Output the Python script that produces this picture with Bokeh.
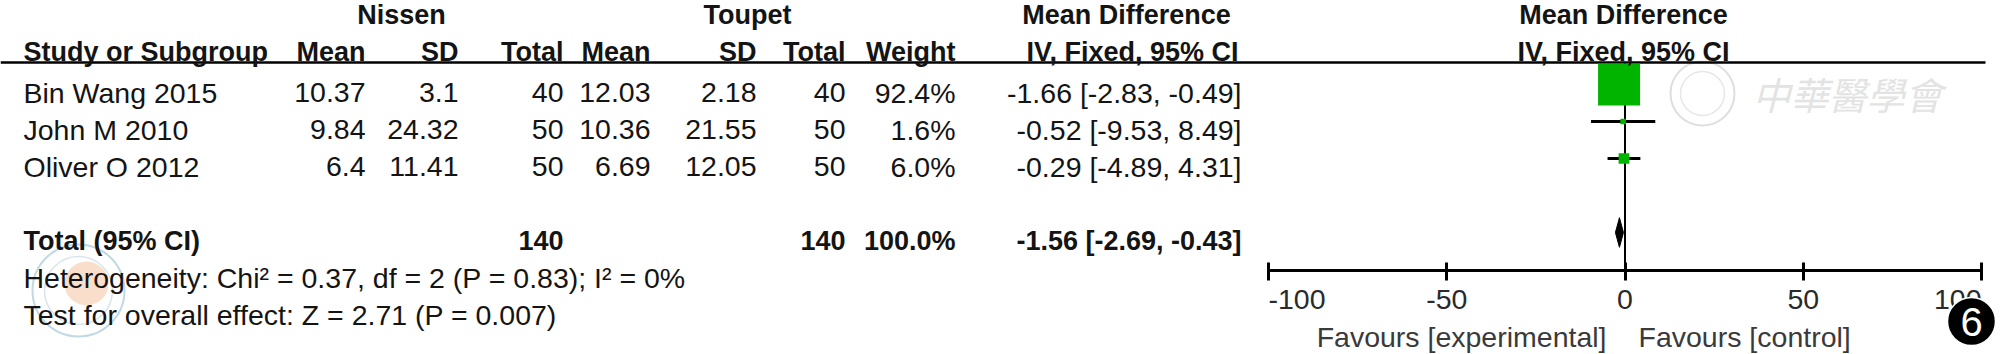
import math
from bokeh.plotting import figure
from bokeh.models import Range1d, LinearAxis, FixedTicker
from bokeh.core.properties import value
from bokeh.embed import file_html
from bokeh.resources import INLINE

# ---------------- data ----------------
studies = ["Bin Wang 2015", "John M 2010", "Oliver O 2012"]
nissen_mean = [10.37, 9.84, 6.4]
nissen_sd = [3.1, 24.32, 11.41]
nissen_total = [40, 50, 50]
toupet_mean = [12.03, 10.36, 6.69]
toupet_sd = [2.18, 21.55, 12.05]
toupet_total = [40, 50, 50]
weights = [92.4, 1.6, 6.0]
md = [-1.66, -0.52, -0.29]
ci_low = [-2.83, -9.53, -4.89]
ci_high = [-0.49, 8.49, 4.31]

total_label = "Total (95% CI)"
total_nissen = 140
total_toupet = 140
total_weight = 100.0
total_md = -1.56
total_low = -2.69
total_high = -0.43
heterogeneity = "Heterogeneity: Chi\u00b2 = 0.37, df = 2 (P = 0.83); I\u00b2 = 0%"
overall_effect = "Test for overall effect: Z = 2.71 (P = 0.007)"

group_headers = ["Nissen", "Toupet"]
col_headers = ["Mean", "SD", "Total", "Mean", "SD", "Total", "Weight"]
md_header = "Mean Difference"
ci_header = "IV, Fixed, 95% CI"
study_header = "Study or Subgroup"
axis_ticks = [-100, -50, 0, 50, 100]
axis_tick_labels = ["-100", "-50", "0", "50", "100"]
favours_left = "Favours [experimental]"
favours_right = "Favours [control]"
watermark_text = "\u4e2d\u83ef\u91ab\u5b78\u6703"
badge_text = "6"

# ---------------- layout ----------------
W, H = 2011, 354
ZERO_PX = 1624.5          # pixel of MD = 0
DATA_PX = 3.565           # pixels per MD unit
ROW0_PX = 84.0            # pixel centre of first study row
ROW_PX = 37.0             # row pitch
FONT = "Liberation Sans"
FS = "28.5px"             # body text
FSB = "27px"              # bold header text
TY = 8                    # baseline offset of row texts below the row centre


def X(px):
    return (px - ZERO_PX) / DATA_PX


def Y(py):
    return (py - ROW0_PX) / ROW_PX


study_rows = [0, 1, 2]
total_row = 4
het_row = 5
test_row = 6

p = figure(width=W, height=H,
           x_range=Range1d(X(0), X(W)), y_range=Range1d(Y(H), Y(0)),
           output_backend="svg", toolbar_location=None,
           x_axis_type=None, y_axis_type=None, min_border=0)
p.outline_line_color = None
p.background_fill_color = "white"
p.border_fill_color = "white"


def txt(xs, ys, texts, align="left", bold=False, size=None, color="#141414",
        yoff=TY, font=FONT, baseline="alphabetic", **kw):
    if size is None:
        size = FSB if bold else FS
    p.text(x=xs, y=ys, text=texts, text_align=align, text_baseline=baseline,
           text_font=value(font), text_font_size=size,
           text_font_style="bold" if bold else "normal",
           text_color=color, y_offset=yoff, **kw)


# ---------------- faint watermarks ----------------
# bottom-left seal
p.scatter(x=[X(78)], y=[Y(290)], size=92, marker="circle", fill_color=None,
          line_color="#c2d8e2", line_width=2)
p.scatter(x=[X(78)], y=[Y(290)], size=68, marker="circle", fill_color=None,
          line_color="#d6e5ec", line_width=1.5)
p.scatter(x=[X(86)], y=[Y(283)], size=44, marker="circle", fill_color="#f8d8c2",
          line_color=None, fill_alpha=0.85)
# top-right seal + calligraphy
p.scatter(x=[X(1702)], y=[Y(93)], size=64, marker="circle", fill_color=None,
          line_color="#dedede", line_width=2)
p.scatter(x=[X(1702)], y=[Y(93)], size=44, marker="circle", fill_color=None,
          line_color="#e6e6e6", line_width=1.5)
p.text(x=[X(1752)], y=[Y(93)], text=[watermark_text], text_align="left",
       text_baseline="middle", text_font=value("Noto Sans CJK TC"),
       text_font_size="38px", text_font_style="italic", text_color="#e3e3e3")

# ---------------- lines ----------------
p.segment(x0=[X(0)], y0=[Y(62)], x1=[X(1985)], y1=[Y(62)],
          line_color="black", line_width=2.5)
p.segment(x0=[0], y0=[Y(62)], x1=[0], y1=[Y(270)],
          line_color="black", line_width=2)

# ---------------- forest marks ----------------
p.segment(x0=ci_low, y0=study_rows, x1=ci_high, y1=study_rows,
          line_color="black", line_width=3)
sq_sizes = [43.7 * math.sqrt(w / 100.0) for w in weights]
p.scatter(x=md, y=study_rows, size=sq_sizes, marker="square",
          fill_color="#00b400", line_color=None)
p.patch(x=[total_low, total_md, total_high, total_md],
        y=[total_row, total_row - 0.4, total_row, total_row + 0.4],
        fill_color="black", line_color="black", line_width=1)

# ---------------- axis ----------------
ax = LinearAxis(fixed_location=Y(270), bounds=(axis_ticks[0], axis_ticks[-1]),
                ticker=FixedTicker(ticks=axis_ticks))
ax.major_label_overrides = {t: "" for t in axis_ticks}
ax.axis_line_width = 3
ax.axis_line_color = "black"
ax.major_tick_line_width = 3
ax.major_tick_line_color = "black"
ax.major_tick_in = 8
ax.major_tick_out = 10
ax.minor_tick_line_color = None
p.add_layout(ax, "below")

# tick labels: end labels kept inside the axis span, as in RevMan
TL_Y = Y(289)
tl_kw = dict(baseline="top", yoff=0, color="#2a2a2a")
txt([axis_ticks[0]], [TL_Y], [axis_tick_labels[0]], align="left", **tl_kw)
txt(axis_ticks[1:-1], [TL_Y] * 3, axis_tick_labels[1:-1], align="center", **tl_kw)
txt([axis_ticks[-1]], [TL_Y], [axis_tick_labels[-1]], align="right", **tl_kw)

# ---------------- headers ----------------
H1, H2 = Y(23), Y(60)
txt([X(401), X(747)], [H1] * 2, group_headers, align="center", bold=True, yoff=-9)
txt([X(1126), X(1623)], [H1] * 2, [md_header] * 2, align="center", bold=True, yoff=-9)
txt([X(23)], [H2], [study_header], bold=True, yoff=-9)
col_right = [365, 458, 563, 650, 756, 845, 955]
txt([X(c) for c in col_right], [H2] * len(col_right), col_headers,
    align="right", bold=True, yoff=-9)
txt([X(1132), X(1623)], [H2] * 2, [ci_header] * 2, align="center", bold=True, yoff=-9)

# ---------------- study rows ----------------
CI_R = 1241
fmt = lambda v: f"{v:g}"
txt([X(23)] * 3, study_rows, studies)
txt([X(col_right[0])] * 3, study_rows, [fmt(v) for v in nissen_mean], align="right")
txt([X(col_right[1])] * 3, study_rows, [fmt(v) for v in nissen_sd], align="right")
txt([X(col_right[2])] * 3, study_rows, [str(v) for v in nissen_total], align="right")
txt([X(col_right[3])] * 3, study_rows, [fmt(v) for v in toupet_mean], align="right")
txt([X(col_right[4])] * 3, study_rows, [fmt(v) for v in toupet_sd], align="right")
txt([X(col_right[5])] * 3, study_rows, [str(v) for v in toupet_total], align="right")
txt([X(col_right[6])] * 3, study_rows, [f"{w:.1f}%" for w in weights], align="right")
txt([X(CI_R)] * 3, study_rows,
    [f"{m:.2f} [{lo:.2f}, {hi:.2f}]" for m, lo, hi in zip(md, ci_low, ci_high)],
    align="right")

# ---------------- total rows ----------------
txt([X(23)], [total_row], [total_label], bold=True)
txt([X(col_right[2]), X(col_right[5])], [total_row] * 2,
    [str(total_nissen), str(total_toupet)], align="right", bold=True)
txt([X(col_right[6])], [total_row], [f"{total_weight:.1f}%"], align="right", bold=True)
txt([X(CI_R)], [total_row], [f"{total_md:.2f} [{total_low:.2f}, {total_high:.2f}]"],
    align="right", bold=True)
txt([X(23)], [het_row], [heterogeneity])
txt([X(23)], [test_row], [overall_effect])

# ---------------- favours ----------------
txt([X(1606)], [Y(344)], [favours_left], align="right", color="#3a3a3a", yoff=-8)
txt([X(1638)], [Y(344)], [favours_right], align="left", color="#3a3a3a", yoff=-8)

# ---------------- badge ----------------
p.scatter(x=[X(1971)], y=[Y(321)], size=48, marker="circle", fill_color="black",
          line_color="white", line_width=1.5, level="overlay")
p.text(x=[X(1971)], y=[Y(321)], text=[badge_text], text_align="center",
       text_baseline="middle", text_font=value(FONT), text_font_size="40px",
       text_color="white", level="overlay")

open("out.html", "w").write(file_html(p, INLINE))
